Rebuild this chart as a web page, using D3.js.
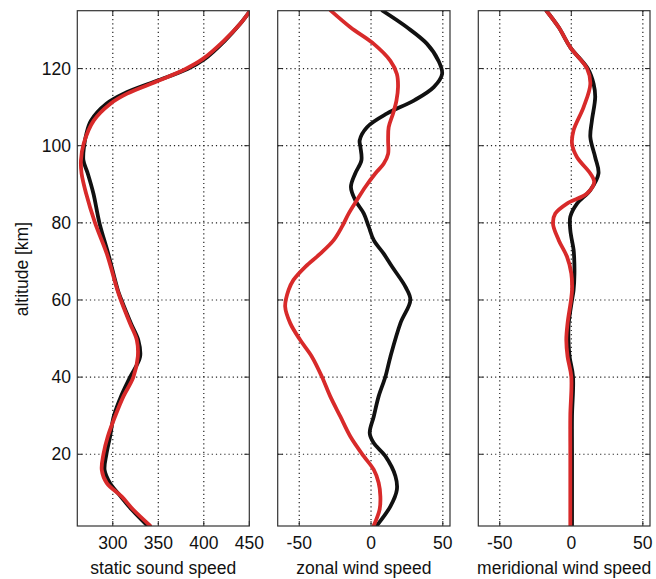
<!DOCTYPE html>
<html><head><meta charset="utf-8">
<script src="https://cdn.jsdelivr.net/npm/d3@7"></script>
<style>body{margin:0;background:#fff}svg{display:block}text{font-family:"Liberation Sans",Arial,Helvetica,sans-serif}</style>
</head><body><svg id="c" width="656" height="579"></svg>
<script>
// ---- data (altitude in km) ----
const soundBlackAlt = [1.5,5.6,9,12.5,15.9,20,24.6,29.8,35,40,45.3,49.6,53.9,60,62.6,72,80,87.6,92.8,96.2,100,103.1,106.5,110.9,113.5,116.7,119.9,122.5,127.2,131.6,135];
const soundBlackVal = [338,321,309,297,291,293,297,301,309,319,330,328,320,309.5,305.5,295,285.3,278.7,272.5,267.7,268.5,271,276,293,312,347,382,401,423,440,451];
const soundRedAlt = [1.5,5.6,9,12.5,15.9,20,24.6,29.8,35,40,45.3,49.6,53.9,60,62.6,72,80,87.6,92.8,96.2,100.5,106.5,110.9,113.5,116.7,119.9,122.5,127.2,131.6,135];
const soundRedVal = [341,322.6,309.9,293.4,287.9,289.7,294.5,302.5,311.7,322.6,327.5,326.4,319,308.8,305,293.4,280.5,270.7,265.7,265,268,279,297.4,315.7,348.7,380,399,422,440,451];

const zonalBlackAlt = [1.5,6.5,10.8,14.3,19.5,22.9,25.5,29.8,35,40.1,45.3,54,60,63.4,68.6,72,75.5,79,82.4,85.9,89.3,92.8,96.2,99.7,101.4,104.8,108.3,111.7,115.2,118.6,122,126.4,130.7,135];
const zonalBlackVal = [4,13.5,18,17,10,1.9,-0.9,1.9,5.3,10,13.5,20.5,27.4,24,14.7,8.8,1.9,-1.6,-5,-11,-14,-11,-6.7,-7.4,-7.9,-2.8,11,29.8,43.7,49.5,47,39,25,8];
const zonalRedAlt = [1.5,5.7,9.1,12.6,16,19.5,24.6,29.8,35,40.1,45.3,49.6,54,58.3,62.6,65.2,68.6,72,75.5,79,82.4,85.9,89.3,92.8,95.3,97.9,101.4,104.8,108.3,111.7,115.2,118.6,122,126.4,130.7,135];
const zonalRedVal = [1.9,6,6.5,5.3,1.9,-5.1,-14.4,-21.4,-28.4,-34.2,-41.2,-49.3,-56.3,-59.8,-57.4,-54,-45.8,-35.3,-26,-20.2,-15.6,-9.8,-4,3,8.8,11.9,11.9,12.3,15.3,17.7,18.8,18,13.5,1.9,-14.4,-28];

const meridBlackAlt = [1.5,10,20,30,40.1,45.3,49.6,54,60,62.6,66.9,70.9,73,78.1,81.6,85,88.5,92.8,97,102.2,106.5,112.6,116,120,125.5,130.7,135];
const meridBlackVal = [0.5,0.5,0.5,0.5,1.2,-1.2,-2,-1.8,0.5,1.6,2.2,2,1.6,-0.7,-0.7,4,13.3,19,16.7,13.3,14.4,16.7,15.6,11.5,-0.7,-8.8,-17.4];
const meridRedAlt = [1.5,10,20,30,40.1,45.3,49.6,54,60,62.6,66.9,71.2,75.5,79.8,82.4,85,87.6,90.6,92.8,97,100.5,104,110,116,120,125.5,130.7,135];
const meridRedVal = [-0.7,-0.7,-0.7,-0.7,0,-2.6,-3.5,-2.6,-0.2,0.5,0,-3,-8.8,-12.8,-11.2,-3,11,16,13.3,4,0.5,1.6,8.6,13.3,11,-0.7,-8.8,-17.4];

const altTicks = [20,40,60,80,100,120];
const soundTicks = [300,350,400,450];
const windTicks = [-50,0,50];
const panelTitles = ["static sound speed","zonal wind speed","meridional wind speed"];
const yLabel = "altitude [km]";

// ---- layout ----
const svg = d3.select("#c");
const yTop = 10.7, yBot = 526;
const y = d3.scaleLinear().domain([1.4,135]).range([yBot,yTop]);
const panels = [
  {x0:77.3, x1:249.3, dom:[261,450], ticks:soundTicks, title:panelTitles[0],
   series:[[soundBlackAlt,soundBlackVal,"#111"],[soundRedAlt,soundRedVal,"#d82a2a"]]},
  {x0:277.7, x1:450, dom:[-65,55], ticks:windTicks, title:panelTitles[1],
   series:[[zonalBlackAlt,zonalBlackVal,"#111"],[zonalRedAlt,zonalRedVal,"#d82a2a"]]},
  {x0:478.3, x1:650, dom:[-65,55], ticks:windTicks, title:panelTitles[2],
   series:[[meridBlackAlt,meridBlackVal,"#111"],[meridRedAlt,meridRedVal,"#d82a2a"]]}
];

panels.forEach((p,i)=>{
  const x = d3.scaleLinear().domain(p.dom).range([p.x0,p.x1]);
  const g = svg.append("g");
  // grid
  g.selectAll(".gx").data(p.ticks.filter(t=>x(t)<p.x1-1)).enter().append("line")
    .attr("x1",d=>x(d)).attr("x2",d=>x(d)).attr("y1",yTop).attr("y2",yBot)
    .attr("stroke","#222").attr("stroke-width",1.2).attr("stroke-dasharray","1.2,3");
  g.selectAll(".gy").data(altTicks).enter().append("line")
    .attr("x1",p.x0).attr("x2",p.x1).attr("y1",d=>y(d)).attr("y2",d=>y(d))
    .attr("stroke","#222").attr("stroke-width",1.2).attr("stroke-dasharray","1.2,3");
  // inward tick marks
  altTicks.forEach(t=>{
    g.append("line").attr("x1",p.x0).attr("x2",p.x0+5).attr("y1",y(t)).attr("y2",y(t)).attr("stroke","#222");
    g.append("line").attr("x1",p.x1-5).attr("x2",p.x1).attr("y1",y(t)).attr("y2",y(t)).attr("stroke","#222");
  });
  p.ticks.forEach(t=>{
    g.append("line").attr("x1",x(t)).attr("x2",x(t)).attr("y1",yBot).attr("y2",yBot-5).attr("stroke","#222");
    g.append("line").attr("x1",x(t)).attr("x2",x(t)).attr("y1",yTop).attr("y2",yTop+5).attr("stroke","#222");
  });
  // curves
  const clipId = "clip"+i;
  svg.append("clipPath").attr("id",clipId).append("rect")
    .attr("x",p.x0).attr("y",yTop).attr("width",p.x1-p.x0).attr("height",yBot-yTop);
  p.series.forEach(([alts,vals,col])=>{
    const pts = alts.map((a,k)=>[vals[k],a]);
    const line = d3.line().x(d=>x(d[0])).y(d=>y(d[1])).curve(d3.curveCatmullRom.alpha(0.5));
    g.append("path").attr("d",line(pts)).attr("fill","none").attr("stroke",col)
      .attr("stroke-width",3.8).attr("stroke-linejoin","round").attr("stroke-linecap","round")
      .attr("clip-path",`url(#${clipId})`);
  });
  // frame
  g.append("rect").attr("x",p.x0).attr("y",yTop).attr("width",p.x1-p.x0).attr("height",yBot-yTop)
    .attr("fill","none").attr("stroke","#333").attr("stroke-width",1.2);
  // x tick labels
  g.selectAll(".xl").data(p.ticks).enter().append("text")
    .attr("x",d=>x(d)).attr("y",549).attr("text-anchor","middle")
    .attr("font-size",17.5).attr("fill","#111").text(d=>d);
  // title
  g.append("text").attr("x",(p.x0+p.x1)/2).attr("y",574).attr("text-anchor","middle")
    .attr("font-size",17.5).attr("fill","#111").text(p.title);
  if(i===0){
    g.selectAll(".yl").data(altTicks).enter().append("text")
      .attr("x",71).attr("y",d=>y(d)+6).attr("text-anchor","end")
      .attr("font-size",17.5).attr("fill","#111").text(d=>d);
    g.append("text").attr("transform",`translate(28,${y(68)}) rotate(-90)`)
      .attr("text-anchor","middle").attr("font-size",17.5).attr("fill","#111").text(yLabel);
  }
});
</script></body></html>
